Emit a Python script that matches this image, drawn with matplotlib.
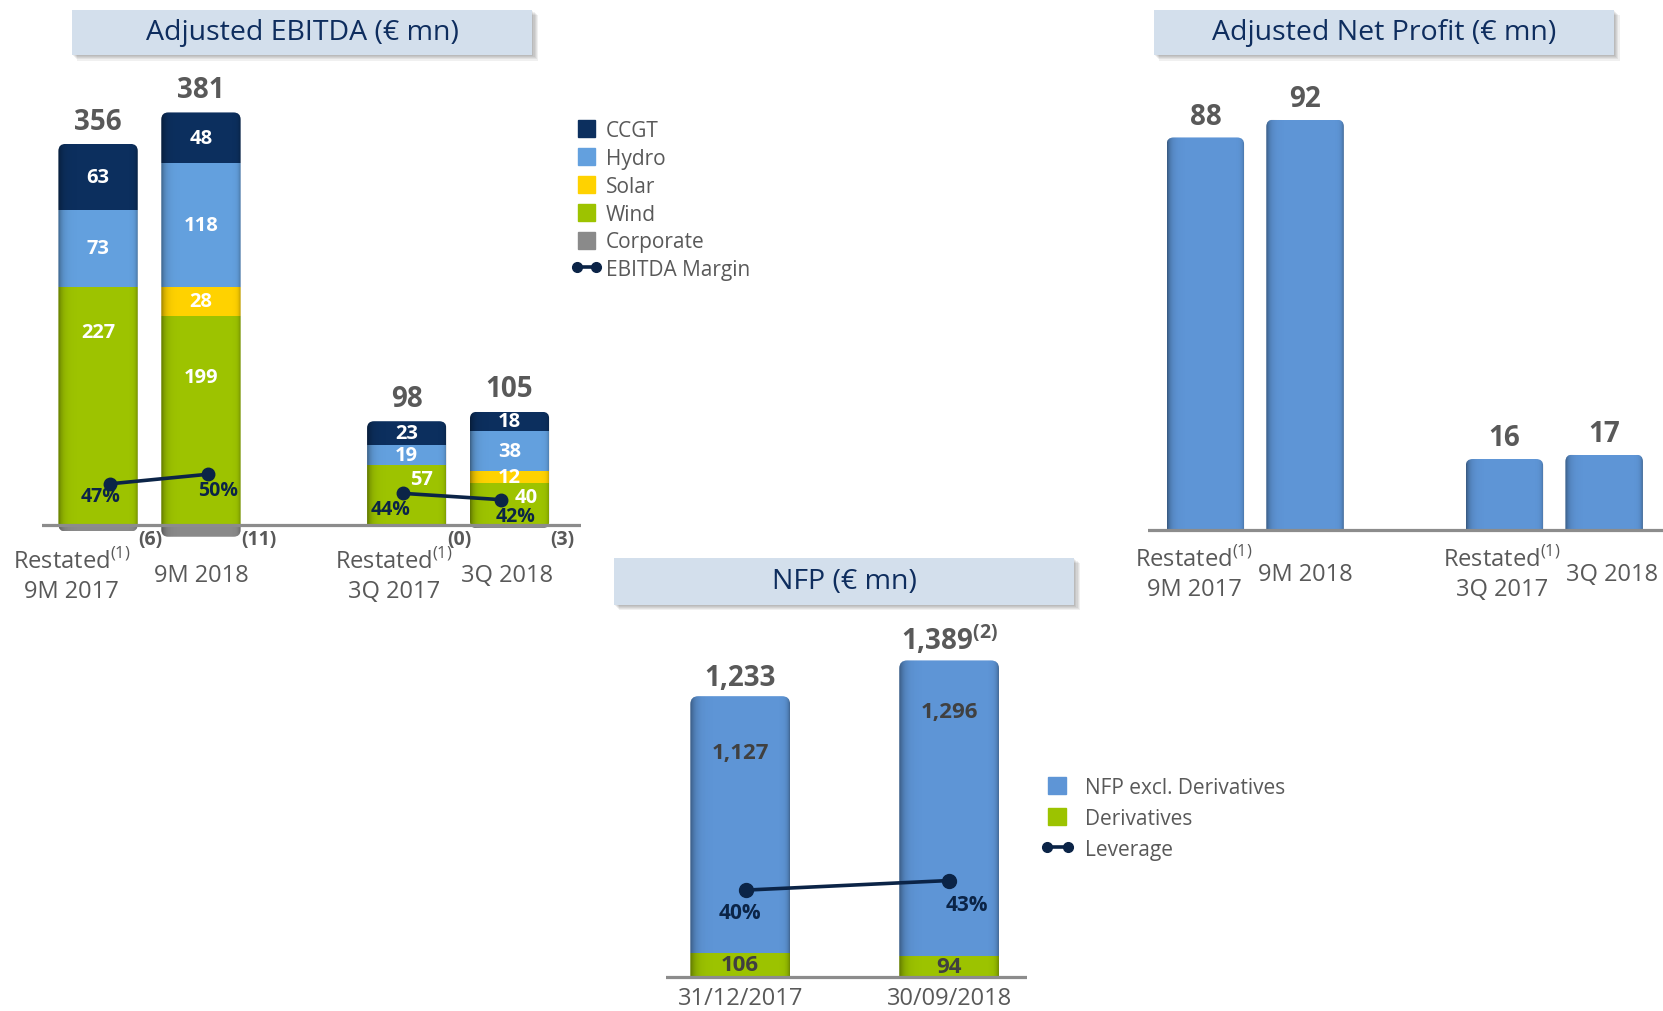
import numpy as np
import matplotlib.pyplot as plt
from matplotlib.patches import Rectangle, FancyBboxPatch, Patch
from matplotlib.lines import Line2D
from matplotlib.legend_handler import HandlerPatch

plt.rcParams['font.family'] = ['Open Sans', 'DejaVu Sans']
plt.rcParams['mathtext.fontset'] = 'custom'
plt.rcParams['mathtext.rm'] = 'Open Sans'
plt.rcParams['mathtext.bf'] = 'Open Sans:bold'

######## data

periods = ['Restated$^{(1)}$\n9M 2017', '9M 2018', 'Restated$^{(1)}$\n3Q 2017', '3Q 2018']

ebitda_wind = [227, 199, 57, 40]
ebitda_solar = [0, 28, 0, 12]
ebitda_hydro = [73, 118, 19, 38]
ebitda_ccgt = [63, 48, 23, 18]
ebitda_corporate = [-6, -11, 0, -3]
ebitda_total = [356, 381, 98, 105]
ebitda_margin = [47, 50, 44, 42]

net_profit = [88, 92, 16, 17]

nfp_dates = ['31/12/2017', '30/09/2018']
nfp_excl_deriv = [1127, 1296]
nfp_derivatives = [106, 94]
nfp_total = [1233, 1389]
nfp_note = ['', '$^{\\mathbf{(2)}}$']
leverage = [40, 43]

######## colours

NAVY = '#0c2f5e'
HYDRO = '#63a0de'
SOLAR = '#ffd200'
WIND = '#9dc300'
CORP = '#8a8a8a'
BLUE = '#5e95d6'
GREY = '#595959'
LINE = '#0b2447'
TITLE_BG = '#d3dfec'

fig = plt.figure(figsize=(16.63, 10.12), dpi=100)

W, H = 1568, 954


def frame(l, t, r, b):
    return [l / W, 1 - b / H, (r - l) / W, (b - t) / H]


def title_box(l, t, r, b, text):
    # soft drop shadow, then the box itself
    for k in range(1, 6):
        fig.patches.append(Rectangle(((l + k) / W, 1 - (b + k) / H), (r - l) / W, (b - t) / H,
                                     transform=fig.transFigure, color='k', alpha=0.06, lw=0))
    fig.patches.append(Rectangle((l / W, 1 - b / H), (r - l) / W, (b - t) / H,
                                 transform=fig.transFigure, color=TITLE_BG, lw=0))
    fig.text((l + r) / 2 / W, 1 - (t + b) / 2 / H, text, ha='center', va='center',
             fontsize=20.5, color='#0e2d5e')


def column(ax, x, w, lo, hi, rects, r_px=7):
    # rounded clip shape + side shading for one stacked column
    (x0, y0), (x1, y1) = ax.transData.transform([(0, 0), (1, 1)])
    kx, ky = x1 - x0, y1 - y0
    bottom = lo if lo < 0 else -3 * r_px / ky
    clip = FancyBboxPatch((x - w / 2, bottom), w, hi - bottom,
                          boxstyle='round,pad=0,rounding_size=%f' % (r_px / kx),
                          mutation_aspect=kx / ky, transform=ax.transData)
    for p in rects:
        p.set_clip_path(clip)
    u = np.linspace(0, 1, 120)
    img = np.zeros((1, 120, 4))
    img[..., 3] = 0.40 * np.exp(-u / 0.05) + 0.30 * np.exp(-(1 - u) / 0.025)
    im = ax.imshow(img, extent=(x - w / 2, x + w / 2, min(lo, 0), hi), aspect='auto',
                   interpolation='bilinear', zorder=3)
    im.set_clip_path(clip)


def square(legend, orig_handle, xdescent, ydescent, width, height, fontsize):
    return Rectangle((-xdescent + (width - height) / 2, -ydescent), height, height)


def bare(ax):
    ax.axis('off')


######## Adjusted EBITDA

title_box(68, 10, 502, 53, 'Adjusted EBITDA (€ mn)')

pos = np.array([0, 1, 3, 4])
w = 0.77
ax = fig.add_axes(frame(40, 60, 548, 520))
ax.set_xlim(-0.541, 4.696)
ax.set_ylim(-24.2, 440.4)
bare(ax)

bottom = np.zeros(4)
stack = []
for vals, col in [(ebitda_wind, WIND), (ebitda_solar, SOLAR), (ebitda_hydro, HYDRO), (ebitda_ccgt, NAVY)]:
    bars = ax.bar(pos, vals, w, bottom=bottom, color=col, zorder=2)
    stack.append((vals, bottom.copy(), bars))
    bottom += vals
corp = ax.bar(pos, ebitda_corporate, w, color=CORP, zorder=2)

for i in range(4):
    rects = [s[2][i] for s in stack] + [corp[i]]
    column(ax, pos[i], w, ebitda_corporate[i], bottom[i], rects)

# segment values (wind labels sit high, clear of the margin line)
wind_frac = [0.81, 0.71, 0.78, 0.66]
wind_dx = [0, 0, 0.14, 0.16]
for k, (vals, base, bars) in enumerate(stack):
    for i in range(4):
        if vals[i] == 0:
            continue
        if k == 0:
            y = base[i] + vals[i] * wind_frac[i]
            x = pos[i] + wind_dx[i]
        else:
            y = base[i] + vals[i] / 2
            x = pos[i]
        ax.text(x, y, str(vals[i]), ha='center', va='center', color='white',
                fontsize=14.5, fontweight='bold', zorder=5)

for i in range(4):
    ax.annotate(str(ebitda_total[i]), (pos[i], bottom[i]), xytext=(0, 11), textcoords='offset points',
                ha='center', va='baseline', fontsize=20, fontweight='bold', color=GREY)
    ax.text(pos[i] + w / 2 + 0.01, -13, '(%d)' % abs(ebitda_corporate[i]), ha='left', va='center',
            fontsize=14, fontweight='bold', color=GREY)

ax.axhline(0, color='#8c8c8c', lw=2.3, zorder=4)

label_dx = [-19, 0, -9, -2]
for i in range(4):
    ax.annotate(periods[i], (pos[i], 0), xytext=(label_dx[i], -36), textcoords='offset points',
                ha='center', va='center', fontsize=17, color=GREY, linespacing=1.3)

ax2 = ax.twinx()
ax2.set_ylim(26, 179.33)
bare(ax2)
margin_x = pos + np.array([0.12, 0.07, -0.04, -0.08])
margin_off = [(-7, -8.5), (7, -11.5), (-8.5, -11.5), (10, -12)]
for grp in [[0, 1], [2, 3]]:
    ax2.plot(margin_x[grp], np.array(ebitda_margin)[grp], color=LINE, lw=2.6, marker='o', ms=9)
for i in range(4):
    ax2.annotate('%d%%' % ebitda_margin[i], (margin_x[i], ebitda_margin[i]), xytext=margin_off[i],
                 textcoords='offset points', ha='center', va='center', fontsize=14,
                 fontweight='bold', color=LINE)

handles = [Patch(color=NAVY), Patch(color=HYDRO), Patch(color=SOLAR), Patch(color=WIND), Patch(color=CORP),
           Line2D([], [], color=LINE, lw=2.6, marker='o', ms=7)]
names = ['CCGT', 'Hydro', 'Solar', 'Wind', 'Corporate', 'EBITDA Margin']
fig.legend(handles, names, loc='upper left', bbox_to_anchor=(538 / W, 1 - 114 / H), frameon=False,
           fontsize=15, labelcolor=GREY, handlelength=1.5, handleheight=0.9, handletextpad=0.2,
           labelspacing=0.33, borderpad=0, borderaxespad=0, numpoints=2,
           handler_map={Patch: HandlerPatch(patch_func=square)})

######## Adjusted Net Profit

title_box(1088, 10, 1522, 53, 'Adjusted Net Profit (€ mn)')

axp = fig.add_axes(frame(1082, 60, 1568, 520))
axp.set_xlim(-0.58, 4.59)
axp.set_ylim(-4.51, 104.75)
bare(axp)
bars = axp.bar(pos, net_profit, 0.777, color=BLUE, zorder=2)
for i in range(4):
    column(axp, pos[i], 0.777, 0, net_profit[i], [bars[i]])
    axp.annotate(str(net_profit[i]), (pos[i], net_profit[i]), xytext=(0, 10), textcoords='offset points',
                 ha='center', va='baseline', fontsize=20, fontweight='bold', color=GREY)
axp.axhline(0, color='#8c8c8c', lw=2.3, zorder=4)
label_dx = [-8, 0, -2, 6]
for i in range(4):
    axp.annotate(periods[i], (pos[i], 0), xytext=(label_dx[i], -31), textcoords='offset points',
                 ha='center', va='center', fontsize=17, color=GREY, linespacing=1.3)

######## NFP

title_box(579, 527, 1013, 571, 'NFP (€ mn)')

pos2 = np.array([0, 1])
w2 = 0.477
axn = fig.add_axes(frame(628, 590, 968, 940))
axn.set_xlim(-0.355, 1.371)
axn.set_ylim(-83.8, 1546)
bare(axn)
der = axn.bar(pos2, nfp_derivatives, w2, color='#9cc300', zorder=2)
exc = axn.bar(pos2, nfp_excl_deriv, w2, bottom=nfp_derivatives, color=BLUE, zorder=2)
excl_frac = [0.78, 0.826]
for i in range(2):
    top = nfp_derivatives[i] + nfp_excl_deriv[i]
    column(axn, pos2[i], w2, 0, top, [der[i], exc[i]], r_px=8)
    axn.text(pos2[i], nfp_derivatives[i] + nfp_excl_deriv[i] * excl_frac[i], '{:,}'.format(nfp_excl_deriv[i]),
             ha='center', va='center', fontsize=16, fontweight='bold', color='#404040', zorder=5)
    axn.text(pos2[i], nfp_derivatives[i] / 2, str(nfp_derivatives[i]), ha='center', va='center',
             fontsize=16, fontweight='bold', color='#404040', zorder=5)
    axn.annotate('{:,}'.format(nfp_total[i]) + nfp_note[i], (pos2[i], top), xytext=(0, 8),
                 textcoords='offset points', ha='center', va='baseline', fontsize=20,
                 fontweight='bold', color=GREY)
    axn.annotate(nfp_dates[i], (pos2[i], 0), xytext=(0, -15), textcoords='offset points',
                 ha='center', va='center', fontsize=17, color=GREY)
axn.axhline(0, color='#8c8c8c', lw=2.3, zorder=4)

axn2 = axn.twinx()
axn2.set_ylim(6.67, 123.33)
bare(axn2)
lev_x = pos2 + np.array([0.03, 0.0])
axn2.plot(lev_x, leverage, color=LINE, lw=2.6, marker='o', ms=10)
lev_off = [(-5, -16), (13, -17)]
for i in range(2):
    axn2.annotate('%d%%' % leverage[i], (lev_x[i], leverage[i]), xytext=lev_off[i],
                  textcoords='offset points', ha='center', va='center', fontsize=15,
                  fontweight='bold', color=LINE)

handles = [Patch(color=BLUE), Patch(color='#9cc300'), Line2D([], [], color=LINE, lw=2.6, marker='o', ms=7)]
fig.legend(handles, ['NFP excl. Derivatives', 'Derivatives', 'Leverage'], loc='upper left',
           bbox_to_anchor=(981 / W, 1 - 733 / H), frameon=False, fontsize=15, labelcolor=GREY,
           handlelength=1.6, handleheight=0.9, handletextpad=0.55, labelspacing=0.5,
           borderpad=0, borderaxespad=0, numpoints=2,
           handler_map={Patch: HandlerPatch(patch_func=square)})

fig.savefig('out.png', dpi=100, facecolor='white')
